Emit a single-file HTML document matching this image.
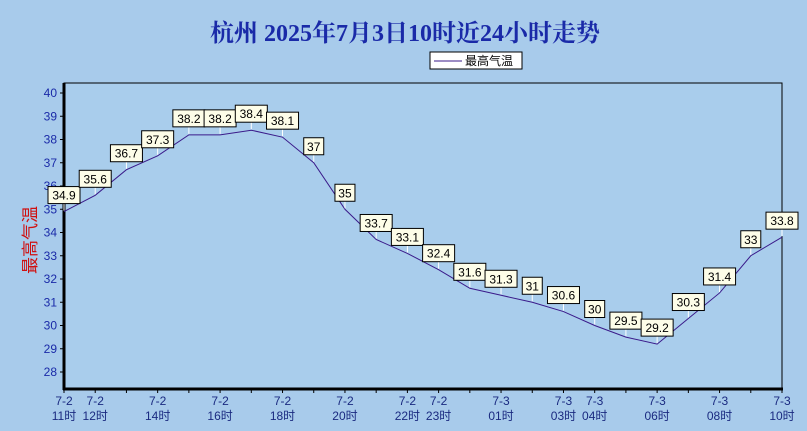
<!DOCTYPE html><html><head><meta charset="utf-8"><style>body{margin:0;background:#a8cbeb;}svg{display:block}</style></head><body>
<svg width="807" height="431" xmlns="http://www.w3.org/2000/svg" font-family="'Liberation Sans','Noto Sans CJK SC',sans-serif">
<rect width="807" height="431" fill="#a8cbeb"/>
<text x="405" y="41" text-anchor="middle" font-family="'Liberation Serif','Noto Serif CJK SC',serif" font-weight="bold" font-size="24" fill="#1a2aa8">杭州 2025年7月3日10时近24小时走势</text>
<rect x="430" y="52" width="92" height="17" fill="#fff" stroke="#000" stroke-width="1"/>
<line x1="434" y1="61" x2="462" y2="61" stroke="#3a1a8a"/>
<text x="465" y="65" font-size="12" fill="#000">最高气温</text>
<rect x="64" y="83" width="718" height="306" fill="#a9cdec" stroke="#000" stroke-width="1"/>
<line x1="64" y1="83" x2="64" y2="390" stroke="#000" stroke-width="3"/>
<line x1="63" y1="389" x2="783" y2="389" stroke="#000" stroke-width="3"/>
<text transform="translate(36,240) rotate(-90)" text-anchor="middle" font-size="17" fill="#d01010">最高气温</text>
<g id="y" font-size="12" fill="#1a2aa8" text-anchor="end"></g>
<g id="x" font-size="12" fill="#1a2a80" text-anchor="middle"></g>
<g id="t" stroke="#000"></g>
<polyline id="ln" fill="none" stroke="#3a1a8a" stroke-width="1"/>
<g id="lb" font-size="12" text-anchor="middle"></g>
</svg>
<script>
const d=[34.9,35.6,36.7,37.3,38.2,38.2,38.4,38.1,37,35,33.7,33.1,32.4,31.6,31.3,31,30.6,30,29.5,29.2,30.3,31.4,33,33.8];
const X=i=>64+i*718/23, Y=v=>93+(40-v)*23.25;
const ns="http://www.w3.org/2000/svg";
function el(p,t,a,txt){const e=document.createElementNS(ns,t);for(const k in a)e.setAttribute(k,a[k]);if(txt!=null)e.textContent=txt;document.getElementById(p).appendChild(e);return e;}
for(let v=28;v<=40;v++){el('y','text',{x:57,y:Y(v)+4},v);el('t','line',{x1:60,y1:Y(v),x2:64,y2:Y(v)});}
for(let i=0;i<24;i++){el('t','line',{x1:X(i),y1:389,x2:X(i),y2:393});}
const hrs=['11','12','13','14','15','16','17','18','19','20','21','22','23','00','01','02','03','04','05','06','07','08','09','10'];
const show=[0,1,3,5,7,9,11,12,14,16,17,19,21,23];
show.forEach(i=>{const day=i<13?'7-2':'7-3';el('x','text',{x:X(i),y:405},day);el('x','text',{x:X(i),y:420},hrs[i]+'时');});
document.getElementById('ln').setAttribute('points',d.map((v,i)=>X(i)+','+Y(v)).join(' '));
d.forEach((v,i)=>{const x=X(i),y=Y(v);const s=String(v);const w=s.length*6+8;
el('lb','line',{x1:x,y1:y-1,x2:x,y2:y-8,stroke:'#fff'});
el('lb','rect',{x:x-w/2,y:y-25,width:w,height:17,fill:'#fdfde8',stroke:'#000'});
el('lb','text',{x:x,y:y-12,fill:'#000'},s);});
</script>
</body></html>
